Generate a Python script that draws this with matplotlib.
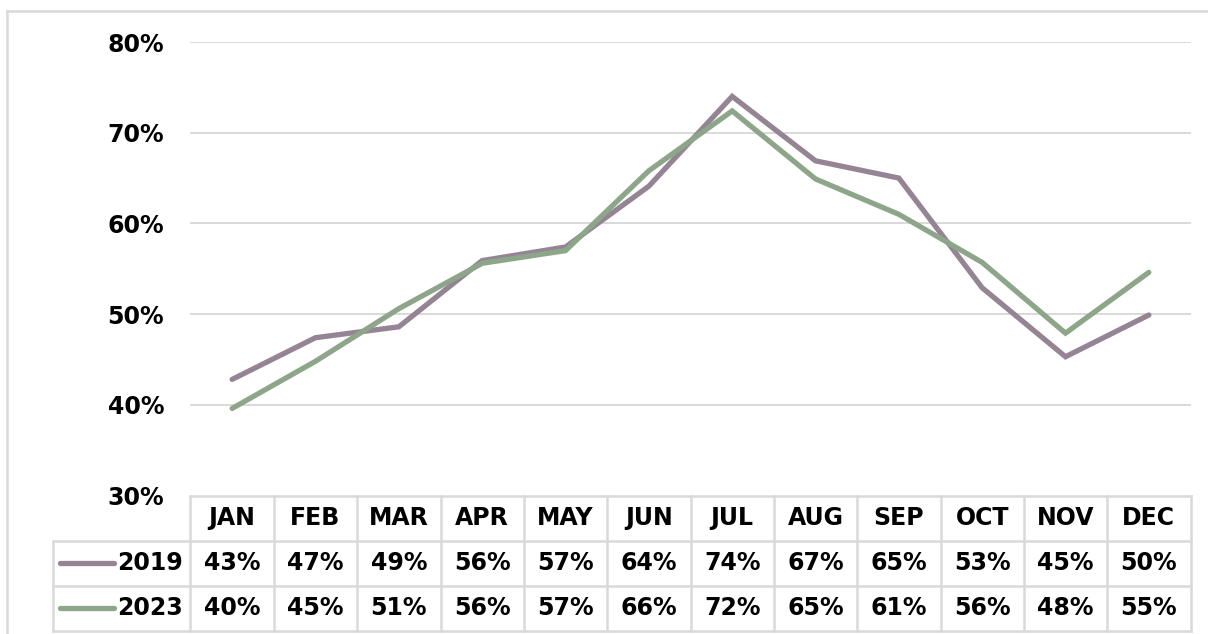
import matplotlib
matplotlib.use("Agg")
import matplotlib.pyplot as plt
from matplotlib.lines import Line2D

months = ["JAN", "FEB", "MAR", "APR", "MAY", "JUN", "JUL", "AUG", "SEP", "OCT", "NOV", "DEC"]
series_names = ["2019", "2023"]
vals_2019 = [42.8, 47.4, 48.6, 55.9, 57.4, 64.1, 74.0, 66.9, 65.0, 52.9, 45.3, 49.9]
vals_2023 = [39.6, 44.8, 50.6, 55.6, 57.0, 65.8, 72.4, 64.9, 61.0, 55.7, 47.9, 54.6]
labels_2019 = ["43%", "47%", "49%", "56%", "57%", "64%", "74%", "67%", "65%", "53%", "45%", "50%"]
labels_2023 = ["40%", "45%", "51%", "56%", "57%", "66%", "72%", "65%", "61%", "56%", "48%", "55%"]
yticks = [30, 40, 50, 60, 70, 80]
ytick_labels = ["30%", "40%", "50%", "60%", "70%", "80%"]
colors = ["#948494", "#8DA68A"]

W, H = 1208, 634
fig = plt.figure(figsize=(W / 100, H / 100), dpi=100)
plt.rcParams['font.family'] = ['DejaVu Sans']

def fx(px):
    return px / W

def fy(py):
    return 1 - py / H

grid_col = "#D9D9D9"
# outer chart border
fig.add_artist(Line2D([fx(7), fx(1208)], [fy(10.5), fy(10.5)], color=grid_col, lw=1.8))
fig.add_artist(Line2D([fx(7), fx(7)], [fy(10.5), fy(634)], color=grid_col, lw=1.8))

fs = 17
x0, x1 = 190.5, 1190.5
ytop, ybot = 42, 495.5
ax = fig.add_axes([fx(x0), fy(ybot), fx(x1) - fx(x0), fy(ytop) - fy(ybot)])
ax.set_xlim(0, len(months))
ax.set_ylim(30, 80)
for s in ax.spines.values():
    s.set_visible(False)
ax.set_xticks([])
ax.set_yticks(yticks)
ax.set_yticklabels(ytick_labels, fontsize=fs, fontweight="bold")
ax.tick_params(axis="y", length=0, pad=19)
for t in yticks[1:]:
    ax.axhline(t, color=grid_col, lw=1.4, zorder=0)

xs = [i + 0.5 for i in range(len(months))]
for vals, c in zip([vals_2019, vals_2023], colors):
    ax.plot(xs, vals, color=c, lw=3.8, solid_capstyle="round", solid_joinstyle="miter", zorder=3)

# data table
col_w = (x1 - x0) / len(months)
row_lines = [495.5, 540.5, 585.5, 630.5]
lw_t = 1.8
fig.add_artist(Line2D([fx(x0), fx(x1)], [fy(row_lines[0])] * 2, color=grid_col, lw=lw_t))
for yy in row_lines[1:]:
    fig.add_artist(Line2D([fx(52.5), fx(x1)], [fy(yy)] * 2, color=grid_col, lw=lw_t))
for i in range(len(months) + 1):
    xx = x0 + i * col_w
    fig.add_artist(Line2D([fx(xx)] * 2, [fy(row_lines[0]), fy(row_lines[-1])], color=grid_col, lw=lw_t))
fig.add_artist(Line2D([fx(52.5)] * 2, [fy(row_lines[1]), fy(row_lines[-1])], color=grid_col, lw=lw_t))

for i, m in enumerate(months):
    cx = x0 + (i + 0.5) * col_w
    fig.text(fx(cx), fy((row_lines[0] + row_lines[1]) / 2), m, ha="center", va="center",
             fontsize=fs, fontweight="bold")
for r, (name, labs, c) in enumerate(zip(series_names, [labels_2019, labels_2023], colors)):
    cy = (row_lines[r + 1] + row_lines[r + 2]) / 2
    fig.add_artist(Line2D([fx(60), fx(114)], [fy(cy)] * 2, color=c, lw=3.8, solid_capstyle="round"))
    fig.text(fx(183), fy(cy), name, ha="right", va="center", fontsize=fs, fontweight="bold")
    for i, lab in enumerate(labs):
        cx = x0 + (i + 0.5) * col_w
        fig.text(fx(cx), fy(cy), lab, ha="center", va="center", fontsize=fs, fontweight="bold")

fig.savefig("out.png", dpi=100, facecolor="white")
